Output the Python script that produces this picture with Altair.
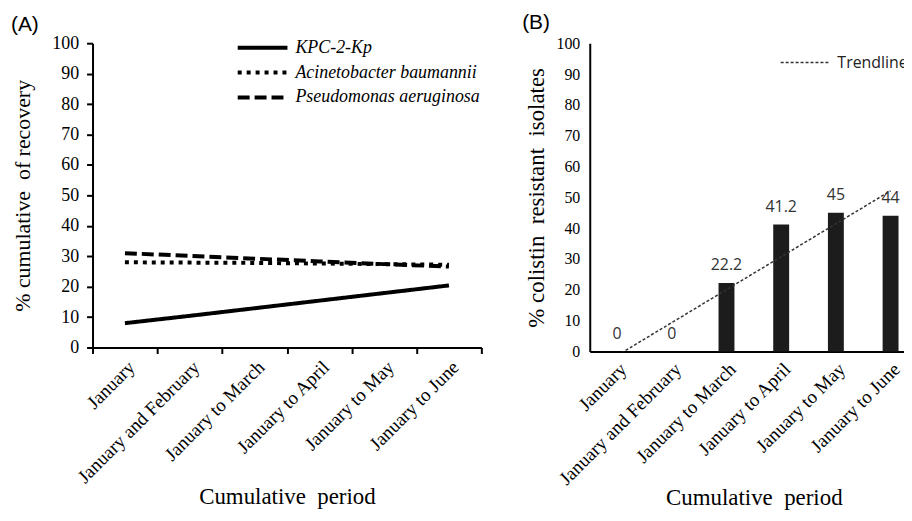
import altair as alt
import numpy as np
import pandas as pd

periods = ["January", "January and February", "January to March",
           "January to April", "January to May", "January to June"]

series_names = ["KPC-2-Kp", "Acinetobacter baumannii", "Pseudomonas aeruginosa"]
kpc = [8.0, 10.4, 12.9, 15.4, 17.9, 20.4]
acineto = [28.0, 27.9, 27.8, 27.6, 27.4, 27.2]
pseudo = [31.0, 30.1, 29.2, 28.3, 27.4, 26.6]

colistin = [0, 0, 22.2, 41.2, 45, 44]
colistin_labels = ["0", "0", "22.2", "41.2", "45", "44"]

SERIF = "Liberation Serif"
SANS = "Liberation Sans"
LABSANS = "Open Sans"
NB = "\u00a0"

# ---------- panel A ----------
rows = []
for name, vals in zip(series_names, [kpc, acineto, pseudo]):
    for p, v in zip(periods, vals):
        rows.append({"period": p, "value": v, "series": name})
dfA = pd.DataFrame(rows)

xA = alt.X("period:N", sort=periods,
           scale=alt.Scale(type="band", paddingInner=0, paddingOuter=0),
           axis=alt.Axis(title="Cumulative" + NB + " period", labelAngle=-45, tickBand="extent",
                         labelFont=SERIF, labelFontSize=19, labelColor="black",
                         titleFont=SERIF, titleFontSize=23, titleFontWeight="normal",
                         titleColor="black", titlePadding=-1,
                         domainColor="black", domainWidth=2, tickColor="black",
                         tickWidth=2, tickSize=6, labelPadding=4))
yA_axis = alt.Axis(title="% cumulative" + NB + " of recovery", values=list(range(0, 101, 10)),
                   grid=False, labelFont=SERIF, labelFontSize=18, labelColor="black",
                   titleFont=SERIF, titleFontSize=22, titleFontWeight="normal",
                   titleColor="black", titlePadding=17,
                   domainColor="black", domainWidth=2, tickColor="black",
                   tickWidth=2, tickSize=6, labelPadding=8)
yA = alt.Y("value:Q", scale=alt.Scale(domain=[0, 100], nice=False), axis=yA_axis)

chartA = alt.Chart(dfA).mark_line(color="black", strokeWidth=4).encode(
    x=xA, y=yA,
    strokeDash=alt.StrokeDash(
        "series:N", sort=series_names,
        scale=alt.Scale(domain=series_names, range=[[1, 0], [4, 5], [12, 5]]),
        legend=alt.Legend(title=None, orient="none", legendX=169, legendY=-10,
                          symbolType="M-3,0H1", symbolSize=625, symbolStrokeWidth=4,
                          symbolStrokeColor="black", labelFont=SERIF, labelFontSize=18,
                          labelFontStyle="italic", labelColor="black", labelOffset=6,
                          rowPadding=1, labelLimit=400)),
).properties(
    width=391, height=306,
    title=alt.TitleParams("(A)", anchor="start", frame="bounds", font=SANS,
                          fontSize=21, fontWeight="normal", color="black", offset=-2, dx=-1),
)

# ---------- panel B ----------
slope, intercept = np.polyfit(np.arange(1, 7), np.array(colistin, dtype=float), 1)
trend = [float(slope * i + intercept) for i in range(1, 7)]

dfB = pd.DataFrame({"period": periods, "value": colistin, "label": colistin_labels,
                    "trend": trend, "legend": ["Trendline"] * 6})

xB = alt.X("period:N", sort=periods,
           scale=alt.Scale(type="band", paddingInner=0, paddingOuter=0),
           axis=alt.Axis(title="Cumulative" + NB + " period", labelAngle=-45, ticks=False,
                         labelFont=SERIF, labelFontSize=19, labelColor="black",
                         titleFont=SERIF, titleFontSize=23, titleFontWeight="normal",
                         titleColor="black", titlePadding=-2,
                         domainColor="black", domainWidth=2, labelPadding=8))
yB_axis = alt.Axis(title="% colistin" + NB + " resistant" + NB + " isolates",
                   values=list(range(0, 101, 10)),
                   grid=False, ticks=False, labelFont=SERIF, labelFontSize=16,
                   labelColor="black", titleFont=SERIF, titleFontSize=23,
                   titleFontWeight="normal", titleColor="black", titlePadding=8,
                   domainColor="black", domainWidth=2, labelPadding=10)
yscaleB = alt.Scale(domain=[0, 100], nice=False)

baseB = alt.Chart(dfB)
bars = baseB.mark_bar(color="#1c1c1c", size=16).encode(
    x=xB, y=alt.Y("value:Q", scale=yscaleB, axis=yB_axis))
labels = baseB.mark_text(font=LABSANS, fontSize=16, color="#333333", baseline="bottom",
                         dy=-10).encode(
    x=xB, y=alt.Y("value:Q", scale=yscaleB, axis=yB_axis), text="label:N")
trendline = baseB.mark_line(color="#333333", strokeWidth=1.5, clip=True).encode(
    x=xB, y=alt.Y("trend:Q", scale=yscaleB, axis=yB_axis),
    strokeDash=alt.StrokeDash(
        "legend:N", scale=alt.Scale(domain=["Trendline"], range=[[3, 2]]),
        legend=alt.Legend(title=None, orient="none", legendX=216, legendY=6,
                          symbolType="M-3,0H1", symbolSize=625, symbolStrokeWidth=1.5,
                          symbolStrokeColor="#333333", labelFont=LABSANS, labelFontSize=16,
                          labelColor="#222222", labelOffset=6)),
)

chartB = alt.layer(bars, trendline, labels).properties(
    width=330, height=310,
    title=alt.TitleParams("(B)", anchor="start", frame="bounds", font=SANS,
                          fontSize=21, fontWeight="normal", color="black", offset=2, dx=-3),
)

chart = alt.hconcat(chartA, chartB, spacing=40).resolve_scale(
    strokeDash="independent").resolve_legend(strokeDash="independent").properties(
    padding={"left": 3, "top": 3, "right": -14, "bottom": -1}
).configure(
    font=SERIF, background="white"
).configure_view(stroke=None).configure_axisY(
    labelFont=SERIF, titleFont=SERIF, labelColor="black", titleColor="black",
    titleFontWeight="normal")

chart.save("out.html", embed_options={"renderer": "svg", "actions": False})
